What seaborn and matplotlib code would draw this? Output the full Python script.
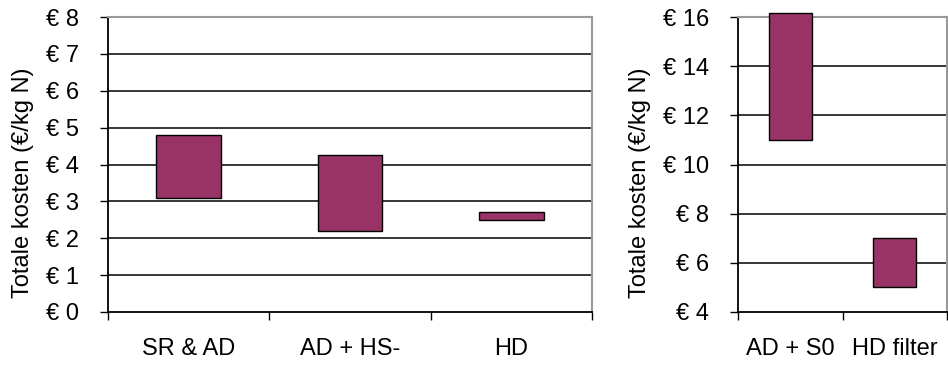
import matplotlib
matplotlib.use("Agg")
import matplotlib.pyplot as plt
import seaborn as sns
import pandas as pd
import numpy as np

# Cost ranges (low / high) per treatment option, € per kg N
left_categories = ["SR & AD", "AD + HS-", "HD"]
left_low = [3.1, 2.2, 2.5]
left_high = [4.8, 4.25, 2.7]

right_categories = ["AD + S0", "HD filter"]
right_low = [11.0, 5.0]
right_high = [16.15, 7.0]

left_ticks = [0, 1, 2, 3, 4, 5, 6, 7, 8]
right_ticks = [4, 6, 8, 10, 12, 14, 16]

BAR_COLOR = "#993366"
FONT = ["Liberation Sans", "DejaVu Sans"]
FS = 17

sns.set_theme(style="white")
plt.rcParams["font.family"] = FONT
plt.rcParams["text.color"] = "black"
plt.rcParams["axes.labelcolor"] = "black"
plt.rcParams["xtick.color"] = "black"
plt.rcParams["ytick.color"] = "black"

W, H = 948, 365
fig = plt.figure(figsize=(W / 100, H / 100), dpi=100)
ax1 = fig.add_axes([108 / W, 1 - 312 / H, (592 - 108) / W, (312 - 17) / H])
ax2 = fig.add_axes([738 / W, 1 - 312 / H, (947 - 738) / W, (312 - 17) / H])


def draw_panel(ax, cats, low, high, ticks, bar_width, clip=True):
    df = pd.DataFrame({
        "cat": cats,
        "span": np.array(high) - np.array(low),
    })
    sns.barplot(data=df, x="cat", y="span", ax=ax, bottom=low,
                color=BAR_COLOR, saturation=1, width=bar_width,
                edgecolor="black", linewidth=1.0, errorbar=None,
                zorder=3, clip_on=clip)
    n = len(cats)
    ax.set_xlim(-0.5, n - 0.5)
    ax.set_ylim(ticks[0], ticks[-1])
    ax.set_yticks(ticks)
    ax.set_yticklabels([f"€ {t}" for t in ticks], fontsize=FS, color="black")
    # category boundaries carry the tick marks, labels sit at centres
    ax.set_xticks(np.arange(n + 1) - 0.5)
    ax.set_xticklabels([])
    ax.set_xticks(np.arange(n), minor=True)
    ax.set_xticklabels(cats, minor=True, fontsize=FS, color="black")
    ax.tick_params(axis="x", which="minor", length=0, pad=19)
    ax.tick_params(axis="x", which="major", length=6, width=1.0,
                   color="black", direction="out", bottom=True)
    ax.tick_params(axis="y", length=6, width=1.0, color="black",
                   direction="out", left=True, pad=15)
    for t in ticks[1:-1]:
        ax.axhline(t, color="black", linewidth=1.1, zorder=1)
    ax.set_xlabel("")
    ax.set_ylabel("Totale kosten (€/kg N)", fontsize=FS, color="black")
    for side in ["left", "bottom"]:
        ax.spines[side].set_color("black")
        ax.spines[side].set_linewidth(1.3)
    for side in ["top", "right"]:
        ax.spines[side].set_color("#999999")
        ax.spines[side].set_linewidth(1.5)
    ax.set_facecolor("white")


draw_panel(ax1, left_categories, left_low, left_high, left_ticks, 0.4)
draw_panel(ax2, right_categories, right_low, right_high, right_ticks, 0.41,
           clip=False)
# place the rotated axis titles by their centre in figure pixels
ax1.yaxis.set_label_coords(23 / W, 0.5, transform=fig.transFigure)
ax2.yaxis.set_label_coords(640 / W, 0.5, transform=fig.transFigure)
ax1.yaxis.label.set_verticalalignment("center")
ax2.yaxis.label.set_verticalalignment("center")

fig.savefig("out.png", dpi=100, facecolor="white")
